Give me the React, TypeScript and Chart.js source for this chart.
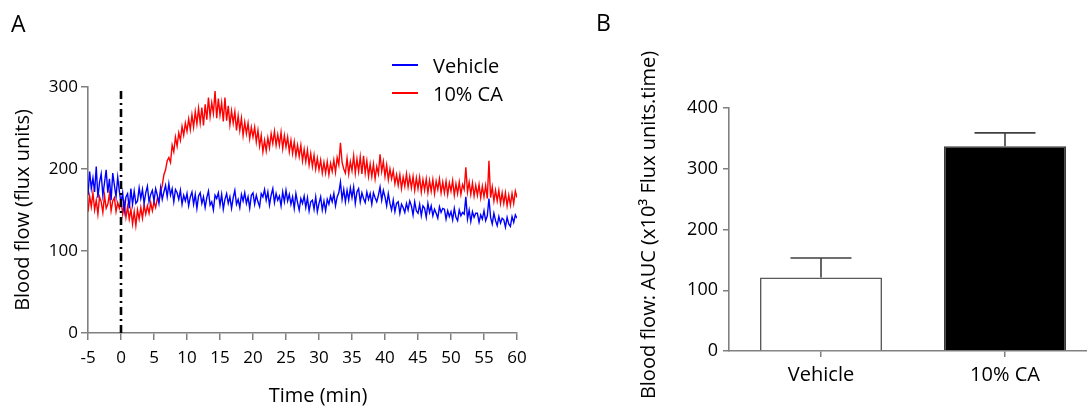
import React, { useEffect, useRef } from "react";
import { Chart, registerables } from "chart.js";

Chart.register(...registerables);

// ---------- Panel A data (Blood flow trace, flux units, sampled every 0.25 min from -5 min) ----------
const TIME_START = -5;
const TIME_STEP = 0.25;

// one row per minute (-5 ... 59), final value at 60 min
const vehicleFlux = [
  168, 197, 176, 189,
  172, 203, 165, 184,
  194, 168, 183, 199,
  171, 188, 162, 195,
  180, 166, 190, 173,
  158, 171, 149, 166,
  170, 152, 176, 157,
  173, 158, 161, 177,
  164, 175, 158, 171,
  179, 160, 169, 174,
  161, 176, 168, 158,
  177, 163, 172, 180,
  166, 182, 168, 176,
  160, 175, 171, 163,
  174, 157, 168, 161,
  170, 155, 166, 172,
  157, 169, 152, 167,
  171, 158, 166, 153,
  165, 173, 156, 160,
  150, 168, 164, 171,
  156, 169, 151, 163,
  170, 158, 166, 152,
  165, 174, 157, 163,
  153, 169, 161, 171,
  158, 166, 152, 168,
  171, 157, 168, 160,
  154, 170, 166, 175,
  162, 172, 156, 168,
  176, 159, 170, 162,
  167, 155, 172, 160,
  174, 161, 169, 157,
  166, 152, 170, 159,
  150, 164, 158, 167,
  153, 165, 149, 160,
  162, 151, 166, 148,
  158, 166, 150, 161,
  149, 163, 157, 167,
  160, 170, 155, 166,
  171, 184, 163, 175,
  160, 174, 162, 177,
  165, 178, 158, 172,
  176, 160, 171, 164,
  159, 172, 163, 170,
  157, 171, 165, 160,
  168, 178, 162, 174,
  166, 155, 170, 158,
  150, 162, 148, 158,
  160, 146, 157, 153,
  147, 158, 150, 161,
  155, 144, 160, 149,
  146, 157, 143, 155,
  152, 141, 158, 147,
  155, 143, 151, 146,
  140, 154, 147, 152,
  151, 139, 149, 142,
  148, 138, 152, 141,
  137, 150, 143, 147,
  145, 166, 139, 150,
  136, 148, 141, 146,
  146, 135, 144, 139,
  149, 137, 143, 164,
  141, 133, 146, 137,
  131, 142, 134, 140,
  138, 129, 141, 133,
  130, 142, 135, 144,
  140,
];

const caFlux = [
  148, 167, 154, 171,
  150, 162, 145, 166,
  160, 147, 168, 152,
  157, 170, 149, 161,
  165, 148, 159, 152,
  162, 145, 158, 141,
  154, 139, 151, 133,
  148, 131, 150, 139,
  153, 140, 156, 145,
  155, 146, 159, 149,
  160, 153, 164, 161,
  172, 180, 193, 199,
  210, 214, 208, 229,
  221, 239, 228, 244,
  235, 252, 241, 256,
  246, 261, 248, 266,
  251, 270, 255, 274,
  256, 275, 253, 279,
  260, 287, 264, 281,
  268, 295, 262, 286,
  266, 281, 258, 287,
  259, 277, 254, 271,
  256, 270, 247, 265,
  247, 262, 241, 257,
  243, 256, 237, 251,
  239, 251, 233, 247,
  228, 241, 221, 235,
  222, 238, 226, 243,
  231, 246, 229, 242,
  229, 245, 225, 241,
  227, 239, 221, 235,
  219, 233, 216, 229,
  215, 229, 210, 224,
  209, 223, 205, 219,
  203, 217, 200, 213,
  199, 211, 195, 208,
  195, 209, 193, 207,
  197, 211, 196, 214,
  205, 232, 208, 200,
  195, 213, 194, 209,
  198, 216, 195, 212,
  197, 215, 194, 216,
  195, 210, 191, 206,
  191, 206, 188, 203,
  194, 218, 197, 209,
  191, 205, 187, 200,
  188, 198, 182, 193,
  180, 193, 176, 190,
  179, 194, 178, 191,
  177, 191, 174, 189,
  176, 190, 172, 187,
  174, 188, 171, 186,
  173, 187, 170, 185,
  175, 188, 171, 184,
  171, 185, 169, 183,
  173, 186, 168, 182,
  170, 184, 169, 181,
  175, 202, 172, 184,
  169, 183, 167, 180,
  168, 181, 165, 179,
  166, 180, 164, 210,
  165, 178, 161, 174,
  161, 174, 158, 171,
  158, 171, 155, 168,
  156, 170, 158, 173,
  165,
];

const seriesNames = ["Vehicle", "10% CA"];
const seriesColors = ["#0000FF", "#FF0000"];
const injectionTime = [0, 0];
const injectionSpan = [0, 300];
const timeAxisRange = [-5, 60];
const timeTickStep = 5;
const fluxAxisRange = [0, 300];
const fluxTickStep = 100;

// ---------- Panel B data (AUC, x10^3 flux units.time) ----------
const aucCategories = ["Vehicle", "10% CA"];
const aucMeans = [121, 337];
const aucSEM = [32, 22];
const aucFill = ["#FFFFFF", "#000000"];
const aucAxisRange = [0, 400];
const aucTickStep = 100;

const FONT = "'Open Sans', 'DejaVu Sans', sans-serif";
const AXIS_GRAY = "#808080";

function toPoints(values: number[]) {
  return values.map((v, i) => ({ x: TIME_START + i * TIME_STEP, y: v }));
}

type TextItem = {
  text: string;
  x: number;
  y: number;
  size: number;
  align?: CanvasTextAlign;
  rotate?: boolean;
};

const textPlugin = {
  id: "freeText",
  afterDraw(chart: any, _args: any, opts: any) {
    const ctx = chart.ctx;
    const items: TextItem[] = opts.items || [];
    ctx.save();
    ctx.fillStyle = "#000";
    for (const it of items) {
      ctx.save();
      ctx.font = `${it.size}px ${FONT}`;
      ctx.textBaseline = "alphabetic";
      ctx.textAlign = it.align || "center";
      ctx.translate(it.x, it.y);
      if (it.rotate) ctx.rotate(-Math.PI / 2);
      ctx.fillText(it.text, 0, 0);
      ctx.restore();
    }
    ctx.restore();
  },
};

const legendPlugin = {
  id: "lineLegend",
  afterDraw(chart: any, _args: any, opts: any) {
    if (!opts.entries) return;
    const ctx = chart.ctx;
    ctx.save();
    opts.entries.forEach((e: any, i: number) => {
      const y = opts.y + i * opts.gap;
      ctx.strokeStyle = e.color;
      ctx.lineWidth = 2;
      ctx.beginPath();
      ctx.moveTo(opts.x, y);
      ctx.lineTo(opts.x + opts.lineLen, y);
      ctx.stroke();
      ctx.fillStyle = "#000";
      ctx.font = `20px ${FONT}`;
      ctx.textAlign = "left";
      ctx.textBaseline = "alphabetic";
      ctx.fillText(e.label, opts.x + opts.lineLen + 15, y + 8);
    });
    ctx.restore();
  },
};

const errorBarPlugin = {
  id: "errorBars",
  afterDatasetsDraw(chart: any, _args: any, opts: any) {
    const meta = chart.getDatasetMeta(0);
    const yScale = chart.scales.y;
    const ctx = chart.ctx;
    ctx.save();
    ctx.strokeStyle = opts.color || "#404040";
    ctx.lineWidth = 1.6;
    meta.data.forEach((bar: any, i: number) => {
      const top = yScale.getPixelForValue(aucMeans[i] + aucSEM[i]);
      const half = bar.width / 4;
      ctx.beginPath();
      ctx.moveTo(bar.x, bar.y);
      ctx.lineTo(bar.x, top);
      ctx.moveTo(bar.x - half, top);
      ctx.lineTo(bar.x + half, top);
      ctx.stroke();
    });
    ctx.restore();
  },
};

export default function App() {
  const refA = useRef<HTMLCanvasElement>(null);
  const refB = useRef<HTMLCanvasElement>(null);

  useEffect(() => {
    Chart.defaults.font.family = FONT;
    Chart.defaults.color = "#000";

    const tickFontA = { size: 17, family: FONT };
    const tickFontB = { size: 18, family: FONT };

    const chartA = new Chart(refA.current as HTMLCanvasElement, {
      type: "line",
      data: {
        datasets: [
          {
            label: "injection",
            data: injectionTime.map((t, i) => ({ x: t, y: injectionSpan[i] })),
            borderColor: "#000",
            borderWidth: 2.6,
            borderDash: [8, 4, 2, 4],
            pointRadius: 0,
          },
          {
            label: seriesNames[0],
            data: toPoints(vehicleFlux),
            borderColor: seriesColors[0],
            borderWidth: 1.4,
            pointRadius: 0,
            tension: 0,
          },
          {
            label: seriesNames[1],
            data: toPoints(caFlux),
            borderColor: seriesColors[1],
            borderWidth: 1.4,
            pointRadius: 0,
            tension: 0,
          },
        ],
      },
      options: {
        animation: false,
        responsive: false,
        events: [],
        layout: { padding: { left: 0, top: 87, right: 43, bottom: 0 } },
        plugins: {
          legend: { display: false },
          tooltip: { enabled: false },
          freeText: {
            items: [
              { text: "A", x: 11, y: 32, size: 23, align: "left" },
              { text: "Time (min)", x: 318, y: 402, size: 20 },
              { text: "Blood flow (flux units)", x: 29, y: 210, size: 20, rotate: true },
            ],
          },
          lineLegend: {
            x: 392,
            y: 65,
            gap: 28,
            lineLen: 26,
            entries: [
              { label: seriesNames[0], color: seriesColors[0] },
              { label: seriesNames[1], color: seriesColors[1] },
            ],
          },
        } as any,
        scales: {
          x: {
            type: "linear",
            min: timeAxisRange[0],
            max: timeAxisRange[1],
            afterFit: (s: any) => {
              s.height = 77;
            },
            ticks: { stepSize: timeTickStep, font: tickFontA, padding: 8, maxRotation: 0, autoSkip: false },
            grid: { drawOnChartArea: false, drawTicks: true, tickLength: 7, color: AXIS_GRAY, lineWidth: 1.5 },
            border: { color: AXIS_GRAY, width: 1.6 },
          },
          y: {
            type: "linear",
            min: fluxAxisRange[0],
            max: fluxAxisRange[1],
            afterFit: (s: any) => {
              s.width = 88;
            },
            ticks: { stepSize: fluxTickStep, font: tickFontA, padding: 3 },
            grid: { drawOnChartArea: false, drawTicks: true, tickLength: 7, color: AXIS_GRAY, lineWidth: 1.5 },
            border: { color: AXIS_GRAY, width: 1.6 },
          },
        },
      },
      plugins: [textPlugin, legendPlugin],
    });

    const chartB = new Chart(refB.current as HTMLCanvasElement, {
      type: "bar",
      data: {
        labels: aucCategories,
        datasets: [
          {
            label: "AUC",
            data: aucMeans,
            backgroundColor: aucFill,
            borderColor: ["#5a5a5a", "#3a3a3a"],
            borderWidth: 1.6,
            borderSkipped: "bottom",
            barPercentage: 0.663,
            categoryPercentage: 1,
          },
        ],
      },
      options: {
        animation: false,
        responsive: false,
        events: [],
        layout: { padding: { left: 0, top: 108, right: 0, bottom: 0 } },
        plugins: {
          legend: { display: false },
          tooltip: { enabled: false },
          freeText: {
            items: [
              { text: "B", x: 36, y: 31, size: 23, align: "left" },
              { text: "Blood flow: AUC (x10³ Flux units.time)", x: 95, y: 225, size: 20, rotate: true },
            ],
          },
          errorBars: { color: "#404040" },
        } as any,
        scales: {
          x: {
            type: "category",
            afterFit: (s: any) => {
              s.height = 59;
            },
            ticks: { font: { size: 20, family: FONT }, padding: 6 },
            grid: { offset: false, drawOnChartArea: false, drawTicks: true, tickLength: 6, color: AXIS_GRAY, lineWidth: 1.5 },
            border: { color: AXIS_GRAY, width: 1.6 },
          },
          y: {
            type: "linear",
            min: aucAxisRange[0],
            max: aucAxisRange[1],
            afterFit: (s: any) => {
              s.width = 169;
            },
            ticks: { stepSize: aucTickStep, font: tickFontB, padding: 5 },
            grid: { drawOnChartArea: false, drawTicks: true, tickLength: 6, color: AXIS_GRAY, lineWidth: 1.5 },
            border: { color: AXIS_GRAY, width: 1.6 },
          },
        },
      },
      plugins: [textPlugin, errorBarPlugin],
    });

    return () => {
      chartA.destroy();
      chartB.destroy();
    };
  }, []);

  return (
    <div
      style={{
        position: "fixed",
        left: 0,
        top: 0,
        width: 1087,
        height: 410,
        overflow: "hidden",
        background: "#fff",
      }}
    >
      <canvas ref={refA} width={560} height={410} style={{ position: "absolute", left: 0, top: 0 }} />
      <canvas ref={refB} width={537} height={410} style={{ position: "absolute", left: 560, top: 0 }} />
    </div>
  );
}
